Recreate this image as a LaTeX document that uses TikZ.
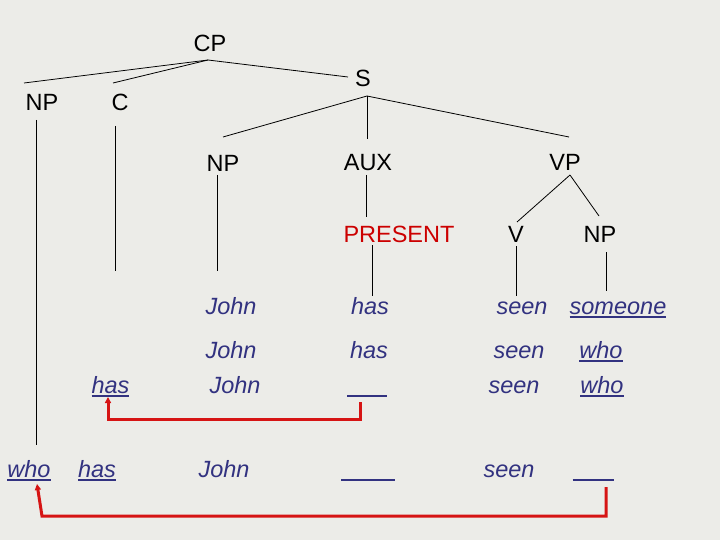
\documentclass[tikz,border=0pt]{standalone}
\usepackage{fontspec}
\setmainfont{Liberation Sans}
\usetikzlibrary{calc, arrows.meta}
\definecolor{paper}{RGB}{236,236,232}
\definecolor{wordblue}{RGB}{50,50,128}
\definecolor{movered}{RGB}{214,20,20}
\definecolor{featred}{RGB}{204,0,0}

\tikzset{
    lab/.style={anchor=base, inner sep=0pt, font=\fontsize{23.5}{28}\selectfont},
    word/.style={lab, text=wordblue, font=\fontsize{23.5}{28}\selectfont\itshape},
    gap/.style={anchor=base, inner sep=0pt, text=wordblue},
    move/.style={movered, line width=3pt, -{Triangle[length=6pt,width=6pt]}},
}
\newsavebox{\wordbox}
\newcommand{\uword}[1]{\sbox{\wordbox}{#1}\rlap{\rule[-4pt]{\wd\wordbox}{2.4pt}}\usebox{\wordbox}}
\newcommand{\blankline}[1]{\rule[-4pt]{#1}{2.4pt}}

\begin{document}
\begin{tikzpicture}[x=1pt, y=-1pt, line width=0.8pt]
    \fill[paper] (0,0) rectangle (720,540);

    % tree labels
    \node[lab] (cp) at (210,52) {CP};
    \node[lab] (npl) at (42,111) {NP};
    \node[lab] (c) at (120,111) {C};
    \node[lab] (s) at (363,87) {S};
    \node[lab] (npm) at (223,172) {NP};
    \node[lab] (aux) at (368,171) {AUX};
    \node[lab] (vp) at (565,171) {VP};
    \node[lab, text=featred] (present) at (399,243) {PRESENT};
    \node[lab] (v) at (516,243) {V};
    \node[lab] (npr) at (600,243) {NP};

    % row 1
    \node[word] (john1) at (231,314) {John};
    \node[word] (has1) at (370,314) {has};
    \node[word] (seen1) at (522,314) {seen};
    \node[word] (some1) at (618,314) {\uword{someone}};
    % row 2
    \node[word] (john2) at (231,358) {John};
    \node[word] (has2) at (369,358) {has};
    \node[word] (seen2) at (519,358) {seen};
    \node[word] (who2) at (601,358) {\uword{who}};
    % row 3
    \node[word] (has3) at (110.5,393) {\uword{has}};
    \node[word] (john3) at (235,393) {John};
    \node[gap] (gap3) at (367,393) {\blankline{40pt}};
    \node[word] (seen3) at (514,393) {seen};
    \node[word] (who3) at (602,393) {\uword{who}};
    % row 4
    \node[word] (who4) at (29,477) {\uword{who}};
    \node[word] (has4) at (97,477) {\uword{has}};
    \node[word] (john4) at (224,477) {John};
    \node[gap] (gapa4) at (368,477) {\blankline{54pt}};
    \node[word] (seen4) at (509,477) {seen};
    \node[gap] (gapb4) at (593,477) {\blankline{41pt}};

    % branches
    \coordinate (cptop) at ([shift={(-2pt,-8pt)}]cp.base);
    \draw (cptop) -- ([shift={(-18pt,28pt)}]npl.base);
    \draw (cptop) -- ([shift={(-7pt,28pt)}]c.base);
    \draw (cptop) -- ([shift={(-15pt,10pt)}]s.base);

    \coordinate (stop) at ([shift={(4pt,-9pt)}]s.base);
    \draw (stop) -- ([yshift=35pt]npm.base);
    \draw (stop) -- ([shift={(-1pt,32pt)}]aux.base);
    \draw (stop) -- ([shift={(4pt,34pt)}]vp.base);

    \coordinate (vptop) at ([shift={(5pt,-4pt)}]vp.base);
    \draw (vptop) -- ([shift={(1pt,21pt)}]v.base);
    \draw (vptop) -- ([shift={(-1pt,27pt)}]npr.base);

    \draw (npl.base) ++(-6pt,-9pt) -- ([shift={(7pt,32pt)}]who4.base);
    \coordinate (cend) at (115,271);
    \draw ([shift={(-5pt,-15pt)}]c.base) -- (cend);
    \coordinate (npmend) at (217,271);
    \draw ([shift={(-6pt,-3pt)}]npm.base) -- (npmend);

    \draw ([shift={(-2pt,-4pt)}]aux.base) -- ([shift={(-33pt,26pt)}]present.base);
    \draw ([shift={(-27pt,-2pt)}]present.base) -- ([shift={(2pt,18pt)}]has1.base);
    \draw ([yshift=-3pt]v.base) -- ([shift={(-6pt,18pt)}]seen1.base);
    \draw ([shift={(6pt,-9pt)}]npr.base) -- ([shift={(-12pt,23pt)}]some1.base);

    % movements
    \draw[move] ([shift={(-7pt,-9pt)}]gap3.base) -- ++(0,17) -| ([shift={(-2.5pt,-4pt)}]has3.base);
    \draw[move] ([shift={(13pt,-10pt)}]gapb4.base) -- ++(0,29)
        -- ([shift={(13pt,-39pt)}]who4.base) -- ([shift={(8pt,-7pt)}]who4.base);
\end{tikzpicture}
\end{document}
